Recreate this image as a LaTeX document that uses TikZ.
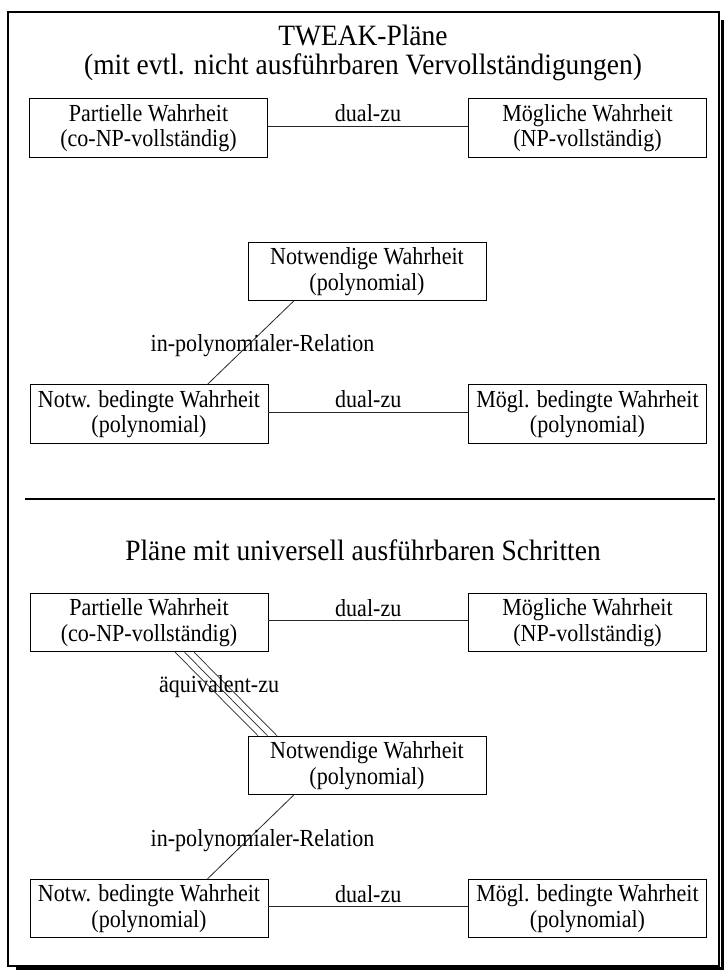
\documentclass[tikz,border=0pt]{standalone}
\usepackage{fontspec}
\setmainfont{Liberation Serif}
\newfontfamily\diaboxface{Liberation Serif}[FakeStretch=0.9]
\newfontfamily\diaheadface{Liberation Serif}[FakeStretch=0.93]
\usetikzlibrary{calc}
\newcommand\diaboxfont{\diaboxface\fontsize{24.5}{25.5}\selectfont}
\newcommand\diaheadfont{\diaheadface\fontsize{29.5}{29}\selectfont}
\begin{document}
\begin{tikzpicture}[x=1pt,y=-1pt,
  box/.style={draw=black, line width=0.9pt, minimum width=238pt, minimum height=58.5pt,
    inner sep=0pt, align=center, font=\diaboxfont},
  rel/.style={draw=black!85, line width=0.8pt},
  rellabel/.style={font=\diaboxfont, inner sep=0pt, anchor=base},
  heading/.style={font=\diaheadfont, inner sep=0pt, anchor=base}]
\useasboundingbox (0,0) rectangle (726,971);

% outer frame with shadow
\draw[line width=2pt] (8,12) rectangle (719,966);
\draw[line width=3pt] (16,968.5) -- (722.5,968.5) -- (722.5,20);

% ---------- upper part: TWEAK plans ----------
\node[heading] (t1a) at (363,46) {TWEAK-Pläne};
\node[heading] (t1b) at (363,75) {(mit evtl. nicht ausführbaren Vervollständigungen)};

\node[box] (pa1) at (148.5,128) {Partielle Wahrheit\\(co-NP-vollständig)};
\node[box] (mw1) at (587.5,128) {Mögliche Wahrheit\\(NP-vollständig)};
\node[box] (nw1) at (367,271.5) {Notwendige Wahrheit\\(polynomial)};
\node[box] (nb1) at (149,414) {Notw. bedingte Wahrheit\\(polynomial)};
\node[box] (mb1) at (587.5,414) {Mögl. bedingte Wahrheit\\(polynomial)};

\draw[rel] ([yshift=2pt]pa1.east) -- ([yshift=2pt]mw1.west)
  node[midway, rellabel, yshift=4.5pt] {dual-zu};
\draw[rel] ($(nw1.south west)+(46,0)$) -- ($(nb1.north west)+(178,0)$)
  node[midway, rellabel, xshift=12pt, yshift=-9pt] {in-polynomialer-Relation};
\draw[rel] ([yshift=2pt]nb1.east) -- ([yshift=2pt]mb1.west)
  node[midway, rellabel, yshift=4.5pt] {dual-zu};

% separator
\draw[line width=2pt] (25,499) -- (715,499);

% ---------- lower part: universally executable steps ----------
\node[heading] (t2) at (363,560) {Pläne mit universell ausführbaren Schritten};

\node[box] (pa2) at (149,622.5) {Partielle Wahrheit\\(co-NP-vollständig)};
\node[box] (mw2) at (587.5,622.5) {Mögliche Wahrheit\\(NP-vollständig)};
\node[box] (nw2) at (367,765.5) {Notwendige Wahrheit\\(polynomial)};
\node[box] (nb2) at (149,908.5) {Notw. bedingte Wahrheit\\(polynomial)};
\node[box] (mb2) at (587.5,908.5) {Mögl. bedingte Wahrheit\\(polynomial)};

\draw[rel] ([yshift=2pt]pa2.east) -- ([yshift=2pt]mw2.west)
  node[midway, rellabel, yshift=4.5pt] {dual-zu};

% triple line for equivalence
\foreach \d in {-9.5,0,9.5}
  \draw[rel, line width=0.7pt] ($(pa2.south west)+(155+\d,0)$) -- ($(nw2.north west)+(20+\d,0)$);
\path ($(pa2.south west)+(155,0)$) -- ($(nw2.north west)+(20,0)$)
  node[midway, rellabel, xshift=-7pt, yshift=2pt] {äquivalent-zu};

\draw[rel] ($(nw2.south west)+(46,0)$) -- ($(nb2.north west)+(178,0)$)
  node[midway, rellabel, xshift=12pt, yshift=-9pt] {in-polynomialer-Relation};
\draw[rel] ([yshift=2pt]nb2.east) -- ([yshift=2pt]mb2.west)
  node[midway, rellabel, yshift=4.5pt] {dual-zu};
\end{tikzpicture}
\end{document}
